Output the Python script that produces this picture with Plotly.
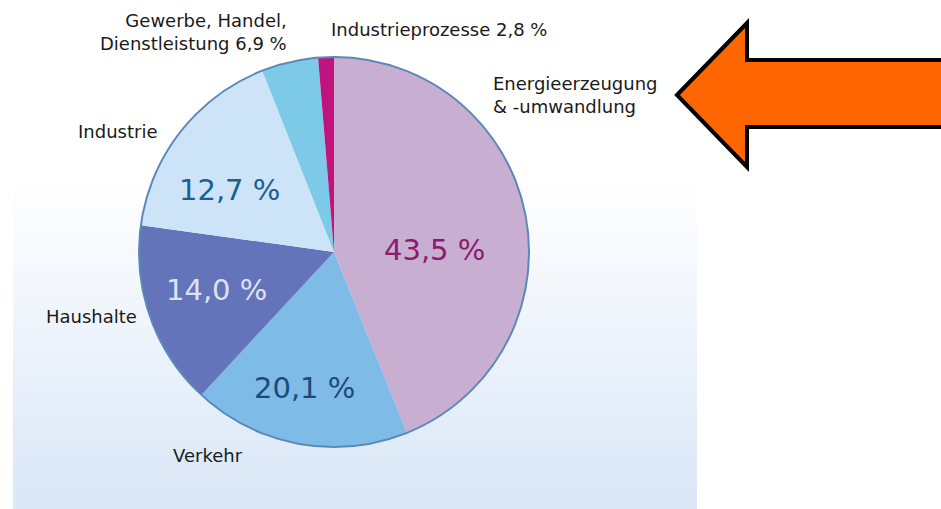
import plotly.graph_objects as go

W, H = 941, 509
OFF = 0

# ---- data ----
sectors = ["Energieerzeugung & -umwandlung", "Verkehr", "Haushalte", "Industrie",
           "Gewerbe, Handel, Dienstleistung", "Industrieprozesse"]
# slice sizes as drawn in the picture (degrees of arc / 3.6)
drawn_share = [43.9, 18.0, 15.3, 16.8, 4.7, 1.3]
# percentages printed on the chart
printed_pct = ["43,5 %", "20,1 %", "14,0 %", "12,7 %", "6,9 %", "2,8 %"]
slice_colors = ["#c8afd1", "#7fbbe7", "#6474ba", "#cde4f8", "#7cc9e8", "#c0137e"]


def px(x):
    return (x - OFF) / W


def py(y):
    return 1 - (y - OFF) / H


fig = go.Figure()
fig.add_trace(go.Pie(
    labels=sectors,
    values=drawn_share,
    sort=False,
    direction="clockwise",
    rotation=0,
    textinfo="none",
    hoverinfo="label",
    marker=dict(colors=slice_colors, line=dict(width=0)),
    domain=dict(x=[px(139), px(529)], y=[py(447), py(57)]),
    showlegend=False,
))

shapes = []
# light blue gradient background panel
y_top, y_bot = 178, 520
n = 40
c0 = (255, 255, 255)
c1 = (219, 232, 247)
for i in range(n):
    t = (i + 0.5) / n
    c = tuple(round(c0[k] + (c1[k] - c0[k]) * min(1, t * 1.1)) for k in range(3))
    ya = y_top + (y_bot - y_top) * i / n
    yb = y_top + (y_bot - y_top) * (i + 1) / n + 0.6
    shapes.append(dict(type="rect", xref="paper", yref="paper",
                       x0=px(13), x1=px(697), y0=py(yb), y1=py(ya),
                       fillcolor="rgb(%d,%d,%d)" % c, line=dict(width=0), layer="below"))

# pie rim
shapes.append(dict(type="circle", xref="paper", yref="paper",
                   x0=px(139), x1=px(529), y0=py(447), y1=py(57),
                   line=dict(color="#5b88b8", width=2), fillcolor="rgba(0,0,0,0)", layer="above"))

# orange arrow
pts = [(677, 95), (747, 23), (747, 60), (990, 60), (990, 127), (747, 127), (747, 167)]
path = "M " + " L ".join("%f,%f" % (px(x), py(y)) for x, y in pts) + " Z"
shapes.append(dict(type="path", xref="paper", yref="paper", path=path,
                   fillcolor="#ff6600", line=dict(color="black", width=4), layer="above"))

FONT = "DejaVu Sans"
ann = []


def label(text, x, y, xanchor, size=18, color="#1a1a1a", align="left"):
    ann.append(dict(text=text, x=px(x), y=py(y), xref="paper", yref="paper",
                    xanchor=xanchor, yanchor="middle", showarrow=False, align=align,
                    font=dict(family=FONT, size=size, color=color)))


# outer labels
label(sectors[4].replace("Handel, ", "Handel,<br>") + " " + printed_pct[4], 289, 32, "right", align="right")
label(sectors[5] + " " + printed_pct[5], 329, 30, "left")
label("Energieerzeugung<br>& -umwandlung", 491, 95, "left")
label(sectors[3], 76, 132, "left")
label(sectors[2], 44, 316, "left")
label(sectors[1], 171, 455, "left")

# inner percentages
label(printed_pct[0], 434, 250, "center", size=29, color="#8a1b6f")
label(printed_pct[1], 304, 388, "center", size=29, color="#1c4b79")
label(printed_pct[2], 216, 290, "center", size=29, color="#dde1f2")
label(printed_pct[3], 229, 190, "center", size=29, color="#1b5f91")

fig.update_layout(
    width=W, height=H,
    margin=dict(l=0, r=0, t=0, b=0),
    paper_bgcolor="white",
    plot_bgcolor="white",
    shapes=shapes,
    annotations=ann,
    showlegend=False,
)

fig.write_html("out.html",
               config={"displayModeBar": False},
               post_script="document.body.style.margin='0';document.body.style.overflow='hidden';")
